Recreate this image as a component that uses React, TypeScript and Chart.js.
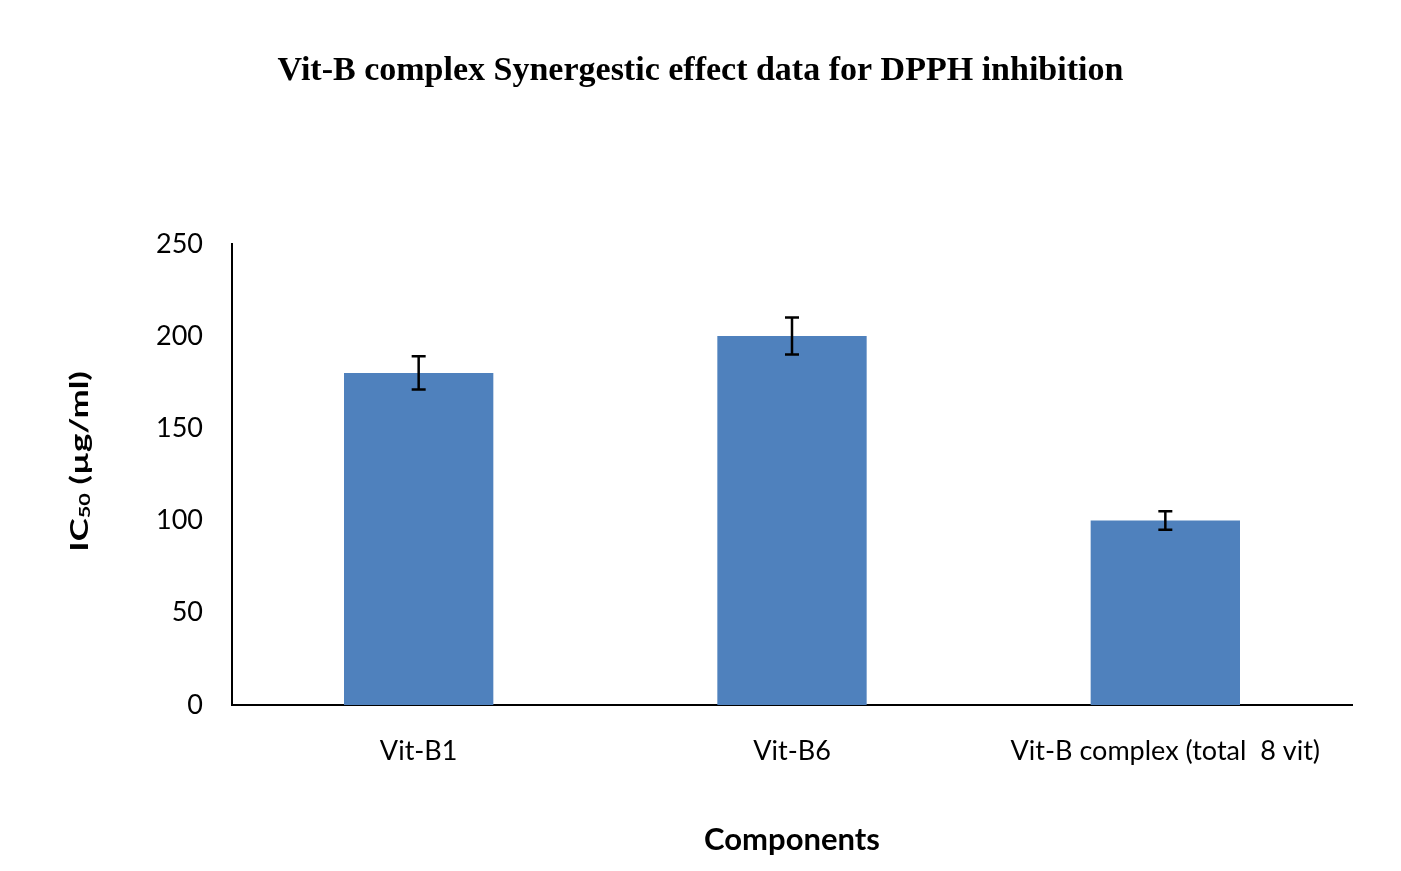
import React, { useEffect, useRef } from "react";
import { Chart, registerables } from "chart.js";

Chart.register(...registerables);

const categories = ["Vit-B1", "Vit-B6", "Vit-B complex (total  8 vit)"];
const ic50Values = [180, 200, 100];
const ic50Errors = [9, 10, 5];
const yMin = 0;
const yMax = 250;
const yStep = 50;

const chartTitle = "Vit-B complex Synergestic effect data for DPPH inhibition";
const xAxisTitle = "Components";

const errorBarPlugin = {
  id: "errorBars",
  afterDatasetsDraw(chart: any) {
    const meta = chart.getDatasetMeta(0);
    const yScale = chart.scales.y;
    const ctx = chart.ctx;
    ctx.save();
    ctx.strokeStyle = "#000000";
    ctx.lineWidth = 2.5;
    meta.data.forEach((bar: any, i: number) => {
      const x = bar.x;
      const top = yScale.getPixelForValue(ic50Values[i] + ic50Errors[i]);
      const bottom = yScale.getPixelForValue(ic50Values[i] - ic50Errors[i]);
      const half = 7;
      ctx.beginPath();
      ctx.moveTo(x, top);
      ctx.lineTo(x, bottom);
      ctx.moveTo(x - half, top);
      ctx.lineTo(x + half, top);
      ctx.moveTo(x - half, bottom);
      ctx.lineTo(x + half, bottom);
      ctx.stroke();
    });
    ctx.restore();
  },
};

const yTitlePlugin = {
  id: "yTitle",
  afterDraw(chart: any) {
    const ctx = chart.ctx;
    const area = chart.chartArea;
    ctx.save();
    ctx.translate(80, (area.top + area.bottom) / 2 - 13);
    ctx.rotate(-Math.PI / 2);
    ctx.scale(1.45, 1);
    ctx.fillStyle = "#000000";
    ctx.textBaseline = "middle";
    const big = "bold 24px Lato, 'Open Sans', sans-serif";
    const small = "bold 15px Lato, 'Open Sans', sans-serif";
    const parts = [
      { t: "IC", f: big, dy: 0 },
      { t: "50", f: small, dy: 5 },
      { t: " (µg/ml)", f: big, dy: 0 },
    ];
    let total = 0;
    parts.forEach((p) => {
      ctx.font = p.f;
      total += ctx.measureText(p.t).width;
    });
    let x = -total / 2;
    ctx.textAlign = "left";
    parts.forEach((p) => {
      ctx.font = p.f;
      ctx.fillText(p.t, x, p.dy);
      x += ctx.measureText(p.t).width;
    });
    ctx.restore();
  },
};

export default function App() {
  const canvasRef = useRef<HTMLCanvasElement | null>(null);

  useEffect(() => {
    document.body.style.margin = "0";
    const canvas = canvasRef.current;
    if (!canvas) return;
    const chart = new Chart(canvas, {
      type: "bar",
      data: {
        labels: categories,
        datasets: [
          {
            label: "IC50",
            data: ic50Values,
            backgroundColor: "#4F81BD",
            borderWidth: 0,
            categoryPercentage: 1,
            barPercentage: 0.4,
          },
        ],
      },
      options: {
        responsive: false,
        animation: false,
        devicePixelRatio: 1,
        layout: { padding: { left: 0, right: 0, top: 0, bottom: 0 } },
        plugins: {
          legend: { display: false },
          tooltip: { enabled: false },
          title: {
            display: true,
            text: chartTitle,
            color: "#000000",
            font: { family: "'Liberation Serif', 'DejaVu Serif', serif", size: 34, weight: "bold", lineHeight: 1.2 },
            padding: { top: 51, bottom: 152 },
          },
        },
        scales: {
          x: {
            grid: { display: false, drawTicks: false },
            border: { display: true, color: "#000000", width: 2 },
            ticks: {
              color: "#000000",
              font: { family: "Lato, 'Open Sans', sans-serif", size: 27, lineHeight: 1.2 },
              padding: 30,
              maxRotation: 0,
              autoSkip: false,
            },
            title: {
              display: true,
              text: xAxisTitle,
              color: "#000000",
              font: { family: "Lato, 'Open Sans', sans-serif", size: 31, weight: "bold", lineHeight: 1.2 },
              padding: { top: 0, bottom: 12 },
            },
            afterFit(scale: any) {
              scale.height = 166;
            },
          },
          y: {
            min: yMin,
            max: yMax,
            grid: { display: false, drawTicks: false },
            border: { display: true, color: "#000000", width: 2 },
            ticks: {
              stepSize: yStep,
              color: "#000000",
              font: { family: "Lato, 'Open Sans', sans-serif", size: 27 },
              padding: 29,
            },
            afterFit(scale: any) {
              scale.width = 232;
            },
          },
          yRightSpacer: {
            type: "linear",
            position: "right",
            min: yMin,
            max: yMax,
            grid: { display: false, drawTicks: false },
            border: { display: false },
            ticks: { display: false },
            afterFit(scale: any) {
              scale.width = 49;
            },
          },
        },
      },
      plugins: [errorBarPlugin, yTitlePlugin],
    });
    return () => chart.destroy();
  }, []);

  return (
    <div style={{ position: "fixed", left: 0, top: 0, width: 1401, height: 871, background: "#ffffff" }}>
      <canvas ref={canvasRef} width={1401} height={871} />
    </div>
  );
}
